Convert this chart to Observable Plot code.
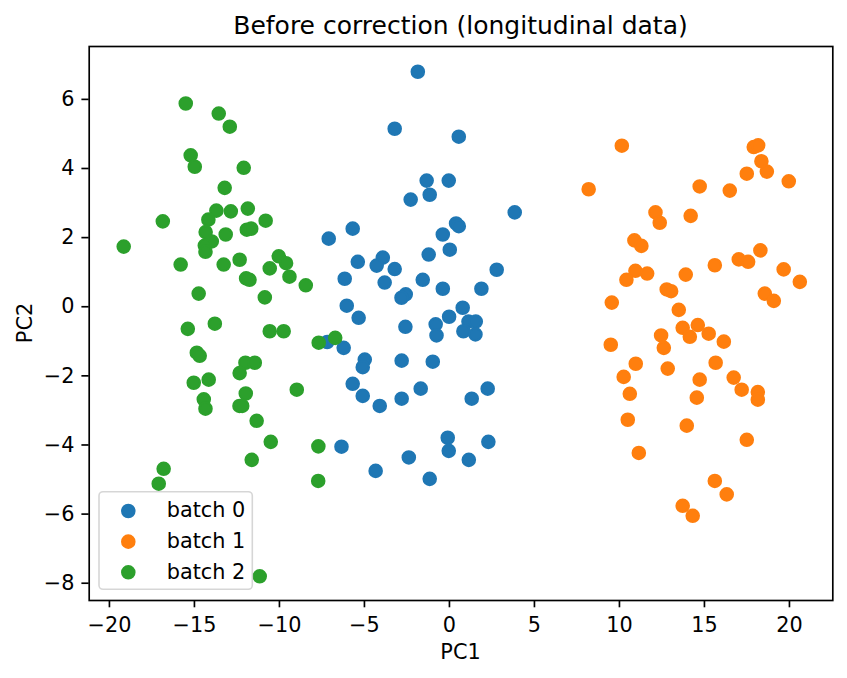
<!DOCTYPE html>
<html>
<head>
<meta charset="utf-8">
<script src="https://cdn.jsdelivr.net/npm/d3@7"></script>
<script src="https://cdn.jsdelivr.net/npm/@observablehq/plot@0.6"></script>
<style>
  body { margin: 0; background: #fff; }
</style>
</head>
<body>
<div id="chart"></div>
<script>
// Series labels and their tab10 colours
const batches = ["batch 0", "batch 1", "batch 2"];
const colors = ["#1f77b4", "#ff7f0e", "#2ca02c"];

// PCA scores, batch 0
const batch0X = [-1.86, -3.22, 0.55, -1.34, -0.04, -1.16, -2.28, 3.84, 0.39, 0.55,
  -0.39, 0.02, -5.69, -7.10, -1.22, -3.92, -4.28, -5.39, -3.22, 2.78,
  -6.16, -3.81, -1.57, -0.39, 1.88, -2.57, -2.82, -6.04, -5.34, 0.78,
  -0.02, -2.59, -0.81, -0.76, 1.12, 1.55, 0.82, 1.53, -7.19, -6.22,
  -4.98, -5.10, -2.81, -0.98, -5.69, -5.10, -4.10, -2.81, -1.69, 1.31,
  2.25, -6.35, -0.10, -0.04, 2.29, -2.39, 1.14, -4.34, -1.16];
const batch0Y = [6.80, 5.15, 4.92, 3.65, 3.65, 3.24, 3.10, 2.73, 2.41, 2.33,
  2.09, 1.65, 2.26, 1.97, 1.51, 1.42, 1.19, 1.30, 1.09, 1.07,
  0.81, 0.70, 0.78, 0.52, 0.52, 0.36, 0.26, 0.03, -0.32, -0.03,
  -0.29, -0.58, -0.51, -0.83, -0.43, -0.43, -0.71, -0.80, -1.02, -1.19,
  -1.53, -1.75, -1.56, -1.59, -2.23, -2.58, -2.87, -2.66, -2.37, -2.66,
  -2.37, -4.05, -3.79, -4.17, -3.91, -4.36, -4.43, -4.75, -4.98];

// PCA scores, batch 1
const batch1X = [10.14, 8.19, 17.90, 18.16, 18.35, 18.67, 17.49, 19.96, 14.72, 16.49,
  12.12, 12.37, 14.19, 10.88, 11.29, 18.29, 15.61, 17.02, 17.57, 10.94,
  11.63, 10.41, 13.90, 19.66, 20.61, 12.78, 13.04, 18.55, 19.08, 9.55,
  13.49, 12.45, 12.61, 13.72, 14.61, 14.14, 15.25, 16.14, 9.49, 10.96,
  10.25, 12.84, 15.66, 14.72, 16.72, 17.19, 18.14, 18.14, 10.61, 14.55,
  10.49, 13.96, 17.49, 11.14, 15.61, 16.31, 13.72, 14.31];
const batch1Y = [4.66, 3.40, 4.62, 4.67, 4.21, 3.91, 3.85, 3.63, 3.48, 3.36,
  2.73, 2.43, 2.63, 1.92, 1.76, 1.63, 1.20, 1.37, 1.30, 1.04,
  0.96, 0.78, 0.93, 1.08, 0.72, 0.50, 0.45, 0.38, 0.17, 0.12,
  -0.09, -0.83, -1.19, -0.61, -0.53, -0.87, -0.78, -1.01, -1.10, -1.65,
  -2.03, -1.79, -1.62, -2.11, -2.05, -2.40, -2.47, -2.69, -2.52, -2.63,
  -3.27, -3.44, -3.85, -4.23, -5.04, -5.43, -5.76, -6.05];

// PCA scores, batch 2
const batch2X = [-15.51, -13.57, -12.92, -15.22, -14.98, -12.10, -13.22, -13.71, -12.86, -11.86,
  -14.18, -10.81, -16.86, -14.34, -13.16, -11.92, -11.66, -13.98, -14.39, -14.35,
  -19.16, -15.81, -13.28, -12.34, -10.04, -9.61, -10.57, -9.41, -11.96, -11.76,
  -8.45, -14.75, -10.86, -15.39, -13.80, -10.57, -9.75, -7.69, -6.72, -14.86,
  -14.69, -12.00, -11.45, -12.34, -15.04, -14.16, -8.98, -14.45, -14.35, -11.98,
  -12.35, -12.19, -11.34, -10.51, -7.71, -11.63, -7.72, -16.81, -17.10, -11.16];
const batch2Y = [5.88, 5.59, 5.21, 4.38, 4.05, 4.02, 3.44, 2.78, 2.76, 2.84,
  2.52, 2.49, 2.47, 2.16, 2.09, 2.23, 2.26, 1.89, 1.77, 1.59,
  1.74, 1.22, 1.22, 1.36, 1.46, 1.26, 1.11, 0.87, 0.82, 0.78,
  0.62, 0.38, 0.27, -0.64, -0.49, -0.71, -0.71, -1.04, -0.90, -1.33,
  -1.42, -1.62, -1.62, -1.92, -2.20, -2.11, -2.40, -2.68, -2.95, -2.51,
  -2.87, -2.87, -3.30, -3.91, -4.04, -4.43, -5.04, -4.69, -5.12, -7.80];

// Axis ticks and texts
const xTicks = [-20, -15, -10, -5, 0, 5, 10, 15, 20];
const yTicks = [-8, -6, -4, -2, 0, 2, 4, 6];
const titleText = "Before correction (longitudinal data)";
const xLabel = "PC1";
const yLabel = "PC2";

// Long table: one row per sample
const series = [[batch0X, batch0Y], [batch1X, batch1Y], [batch2X, batch2Y]];
const points = [];
series.forEach(([xs, ys], i) => {
  xs.forEach((x, j) => points.push({pc1: x, pc2: ys[j], batch: batches[i]}));
});

const W = 847, H = 678;
const mL = 88.7, mR = 14.7, mT = 46, mB = 78;
const fontPx = 20.8;

const svgNode = Plot.plot({
  width: W,
  height: H,
  marginLeft: mL,
  marginRight: mR,
  marginTop: mT,
  marginBottom: mB,
  style: {
    fontFamily: "'DejaVu Sans', sans-serif",
    fontSize: fontPx + "px",
    color: "black",
    background: "white",
    overflow: "visible"
  },
  x: {domain: [-21.19, 22.55], label: null},
  y: {domain: [-8.50, 7.53], label: null},
  color: {domain: batches, range: colors},
  marks: [
    Plot.dot(points, {
      x: "pc1", y: "pc2",
      fill: "batch", stroke: "batch",
      r: 6.25, strokeWidth: 2.08
    }),
    Plot.frame({stroke: "black", strokeWidth: 1.67}),
    Plot.axisX({ticks: xTicks, tickSize: 7.3, tickPadding: 9, strokeWidth: 1.67, label: null}),
    Plot.axisY({ticks: yTicks, tickSize: 7.3, tickPadding: 7.4, strokeWidth: 1.67, label: null})
  ]
});

const svg = d3.select(svgNode);
const cx = (mL + (W - mR)) / 2;
const cy = (mT + (H - mB)) / 2;

// Title and axis titles
svg.append("text")
  .attr("x", cx).attr("y", 34)
  .attr("text-anchor", "middle")
  .attr("font-size", 25)
  .attr("fill", "black")
  .text(titleText);

svg.append("text")
  .attr("x", cx).attr("y", 659.3)
  .attr("text-anchor", "middle")
  .attr("fill", "black")
  .text(xLabel);

svg.append("text")
  .attr("transform", `translate(32,${cy}) rotate(-90)`)
  .attr("text-anchor", "middle")
  .attr("fill", "black")
  .text(yLabel);

// Legend box in the lower-left corner of the axes
const legend = svg.append("g").attr("text-anchor", "start");
legend.append("rect")
  .attr("x", 99).attr("y", 491.7)
  .attr("width", 153.3).attr("height", 97.6)
  .attr("rx", 4).attr("ry", 4)
  .attr("fill", "white").attr("fill-opacity", 0.8)
  .attr("stroke", "#cccccc").attr("stroke-opacity", 0.8).attr("stroke-width", 1.6);

batches.forEach((b, i) => {
  const yy = 511 + i * 30.65;
  legend.append("circle")
    .attr("cx", 128.3).attr("cy", yy).attr("r", 6.25)
    .attr("fill", colors[i]).attr("stroke", colors[i]).attr("stroke-width", 2.08);
  legend.append("text")
    .attr("x", 166.7).attr("y", yy + 6.3)
    .attr("text-anchor", "start")
    .attr("fill", "black")
    .text(b);
});

document.getElementById("chart").appendChild(svgNode);
</script>
</body>
</html>
